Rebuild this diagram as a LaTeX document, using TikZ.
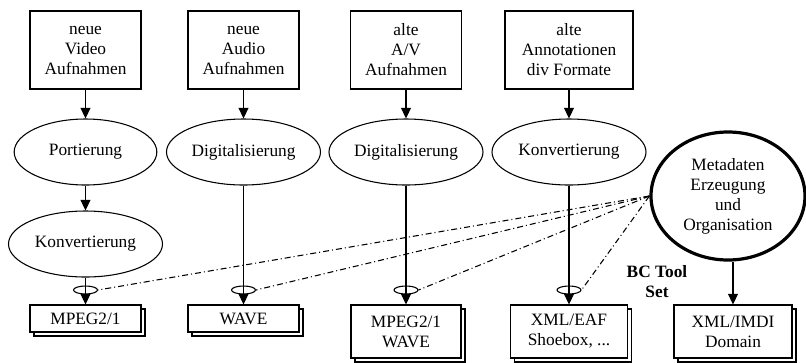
\documentclass[tikz,border=0pt]{standalone}
\usepackage{fontspec}
\setmainfont{Liberation Serif}
\usetikzlibrary{arrows.meta,shapes.geometric,shadows}

\tikzset{
    srcbox/.style={draw, line width=0.8pt, align=center, inner sep=0pt,
        minimum width=83.25pt, minimum height=58.5pt},
    proc/.style={draw, ellipse, line width=0.8pt, inner sep=0pt,
        minimum width=115.5pt, minimum height=49.5pt},
    port/.style={draw, ellipse, line width=0.8pt, inner sep=0pt,
        minimum width=18pt, minimum height=6pt},
    outbox/.style={draw, fill=white, line width=0.8pt, align=center, inner sep=0pt,
        minimum width=83.25pt, minimum height=20.25pt,
        copy shadow={shadow xshift=3pt, shadow yshift=-3pt, line width=0.8pt}},
    arr/.style={line width=0.8pt, -{Triangle[length=8pt, width=7.5pt]}},
    metaline/.style={line width=0.8pt,
        dash pattern=on 4.5pt off 2.25pt on 0.75pt off 2.25pt}
}

\begin{document}
\begin{tikzpicture}[x=0.75pt, y=-0.75pt, font=\fontsize{13}{15}\selectfont]
    \useasboundingbox (0,0) rectangle (806,362);

    % Draw the sources
    \node[srcbox] (vid) at (85.5,50) {neue\\Video\\Aufnahmen};
    \node[srcbox] (aud) at (243.5,50) {neue\\Audio\\Aufnahmen};
    \node[srcbox] (av) at (406,50) {alte\\A/V\\Aufnahmen};
    \node[srcbox, minimum width=96pt] (ann) at (569,50) {alte\\Annotationen\\div Formate};

    % Draw the processing steps
    \node[proc, minimum width=107pt] (port) at (85.5,152) {Portierung};
    \node[proc] (digA) at (243.5,152) {Digitalisierung};
    \node[proc] (digB) at (406,152) {Digitalisierung};
    \node[proc] (konvB) at (569,152) {Konvertierung};
    \node[proc] (konvA) at (85.5,244) {Konvertierung};
    \node[draw, ellipse, line width=2.4pt, inner sep=0pt, align=center,
        minimum width=115.5pt, minimum height=96pt] (meta) at (728,196)
        {Metadaten\\Erzeugung\\und\\Organisation};

    % Draw the results
    \node[outbox] (mpeg) at (85.5,318.5) {MPEG2/1};
    \node[outbox] (wave) at (243.5,318.5) {WAVE};
    \node[outbox, minimum width=82.5pt, minimum height=39.75pt] (mpwv) at (406,331.5) {MPEG2/1\\WAVE};
    \node[outbox, minimum width=87.75pt, minimum height=39.75pt] (xml) at (569,331.5) {XML/EAF\\Shoebox, ...};
    \node[outbox, minimum width=88.5pt, minimum height=39.75pt] (imdi) at (733,331.5) {XML/IMDI\\Domain};

    % Draw the ports
    \node[port] (p1) at (85.5,290) {};
    \node[port] (p2) at (243.5,290) {};
    \node[port] (p3) at (406,290) {};
    \node[port] (p4) at (569,290) {};

    \node[font=\fontsize{13}{15}\selectfont\bfseries, align=center] (bc) at (657,282) {BC Tool\\Set};

    % Draw the arrows
    \draw[arr] (vid) -- (port);
    \draw[arr] (aud) -- (digA);
    \draw[arr] (av) -- (digB);
    \draw[arr] (ann) -- (konvB);
    \draw[arr] (port) -- (konvA);
    \draw[arr] (konvA) -- (mpeg);
    \draw[arr] (digA) -- (wave);
    \draw[arr] (digB) -- (mpwv);
    \draw[arr] (konvB) -- (xml);
    \draw[arr] (meta.south -| imdi.north) -- (imdi);

    % Draw the metadata links
    \draw[metaline] (meta.west) -- (p1.east);
    \draw[metaline] (meta.west) -- (p2.east);
    \draw[metaline] (meta.west) -- (p3.east);
    \draw[metaline] (meta.west) -- (p4.east);

\end{tikzpicture}
\end{document}
